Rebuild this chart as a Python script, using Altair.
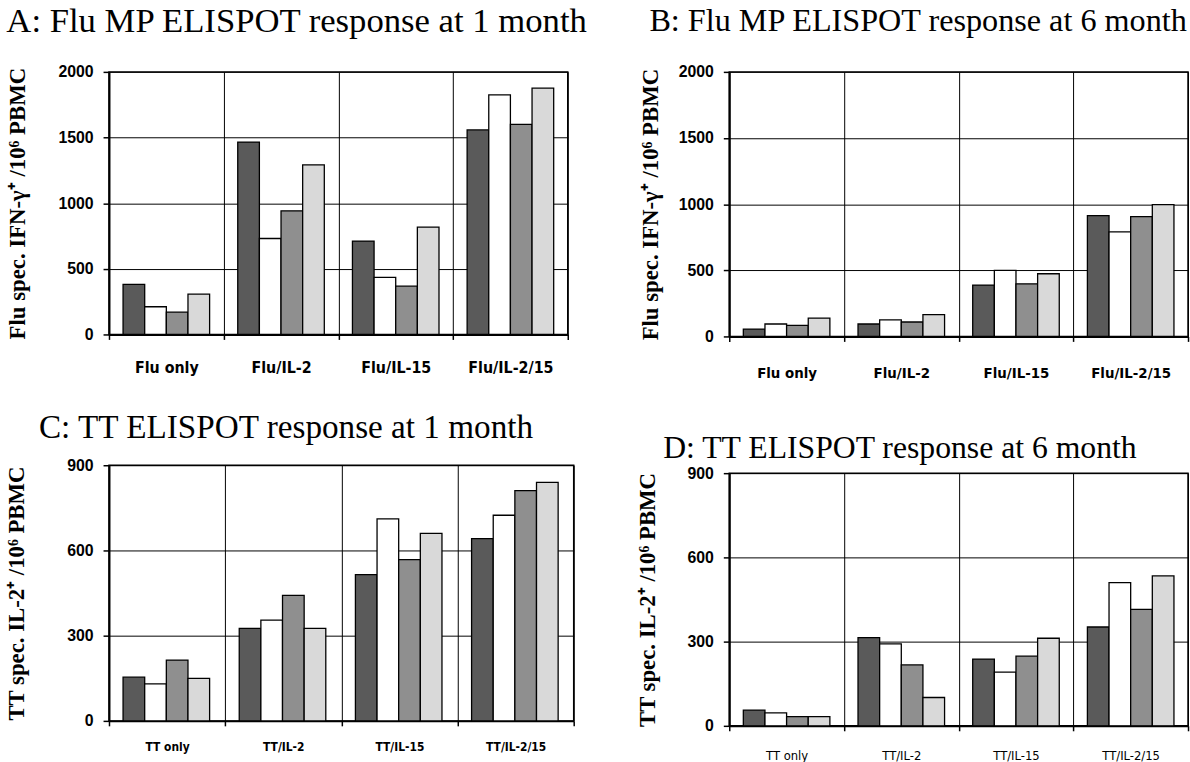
import altair as alt
import pandas as pd

# ---- data ----
series = ["Bar 1", "Bar 2", "Bar 3", "Bar 4"]
bar_colors = ["#5a5a5a", "#ffffff", "#8f8f8f", "#d9d9d9"]

flu_groups = ["Flu only", "Flu/IL-2", "Flu/IL-15", "Flu/IL-2/15"]
tt_groups = ["TT only", "TT/IL-2", "TT/IL-15", "TT/IL-2/15"]

# Panel A: Flu MP ELISPOT, 1 month
a_flu_only = [381, 211, 170, 307]
a_flu_il2 = [1465, 731, 942, 1292]
a_flu_il15 = [711, 434, 368, 818]
a_flu_il215 = [1558, 1825, 1600, 1876]

# Panel B: Flu MP ELISPOT, 6 month
b_flu_only = [56, 94, 84, 139]
b_flu_il2 = [94, 125, 109, 165]
b_flu_il15 = [388, 499, 398, 474]
b_flu_il215 = [913, 791, 905, 996]

# Panel C: TT ELISPOT, 1 month
c_tt_only = [154, 130, 214, 150]
c_tt_il2 = [326, 355, 442, 326]
c_tt_il15 = [515, 711, 568, 660]
c_tt_il215 = [642, 724, 811, 840]

# Panel D: TT ELISPOT, 6 month
d_tt_only = [56, 46, 33, 33]
d_tt_il2 = [314, 292, 217, 101]
d_tt_il15 = [238, 191, 248, 312]
d_tt_il215 = [352, 510, 415, 534]

flu_ticks = [0, 500, 1000, 1500, 2000]
tt_ticks = [0, 300, 600, 900]

SERIF = "'Liberation Serif', 'Times New Roman', serif"
NARROW = "'Liberation Sans Narrow', 'Arial Narrow', 'DejaVu Sans Condensed', 'Liberation Sans', sans-serif"
SANS = "'Liberation Sans', Arial, sans-serif"


def panel(groups, rows, title, ytitle, ticks, w, h, title_dx, title_offset,
          title_size, ytitle_pad, xlabel_size, xlabel_weight, xlabel_pad):
    recs = []
    for g, vals in zip(groups, rows):
        for s, v in zip(series, vals):
            recs.append({"group": g, "series": s, "value": v})
    df = pd.DataFrame(recs)
    return alt.Chart(df).mark_bar(stroke="black", strokeWidth=1.3).encode(
        x=alt.X("group:N", sort=groups, title=None,
                scale=alt.Scale(paddingInner=0, paddingOuter=0),
                axis=alt.Axis(tickBand="extent", grid=True, gridColor="black",
                              gridWidth=1, gridOpacity=1, domainColor="black",
                              domainWidth=2, tickColor="black", tickSize=5,
                              tickWidth=1.5, labelAngle=0, labelFont=NARROW,
                              labelFontSize=xlabel_size, labelFontWeight=xlabel_weight,
                              labelColor="black", labelPadding=xlabel_pad)),
        xOffset=alt.XOffset("series:N", sort=series,
                            scale=alt.Scale(paddingOuter=0.65, paddingInner=0)),
        y=alt.Y("value:Q", scale=alt.Scale(domain=[ticks[0], ticks[-1]], nice=False),
                axis=alt.Axis(values=ticks, format="d", title=ytitle, titleFont=SERIF,
                              titleFontSize=23, titleFontWeight="bold",
                              titleColor="black", titlePadding=ytitle_pad,
                              grid=True, gridColor="black", gridWidth=1,
                              gridOpacity=1, domainColor="black", domainWidth=2,
                              tickColor="black", tickSize=6, tickWidth=1.5,
                              labelFont=SANS, labelFontSize=16,
                              labelFontWeight="bold", labelColor="black",
                              labelPadding=10)),
        color=alt.Color("series:N", scale=alt.Scale(domain=series, range=bar_colors),
                        legend=None),
    ).properties(
        width=w, height=h,
        title=alt.TitleParams(title, anchor="start", frame="bounds", dx=title_dx,
                              offset=title_offset, font=SERIF, fontSize=title_size,
                              fontWeight="normal", color="black"),
    )


A = panel(flu_groups, [a_flu_only, a_flu_il2, a_flu_il15, a_flu_il215],
          "A: Flu MP ELISPOT response at 1 month", "Flu spec. IFN-\u03b3\u207a /10\u2076 PBMC",
          flu_ticks, 463, 265, 0, 25, 35, 29, 16, "bold", 20)
B = panel(flu_groups, [b_flu_only, b_flu_il2, b_flu_il15, b_flu_il215],
          "B: Flu MP ELISPOT response at 6 month", "Flu spec. IFN-\u03b3\u207a /10\u2076 PBMC",
          flu_ticks, 463, 267, 10, 27, 32.5, 16, 15, "bold", 24)
C = panel(tt_groups, [c_tt_only, c_tt_il2, c_tt_il15, c_tt_il215],
          "C: TT ELISPOT response at 1 month", "TT spec. IL-2\u207a /10\u2076 PBMC",
          tt_ticks, 469, 258, 34, 12, 33.5, 39, 12, "bold", 16)
D = panel(tt_groups, [d_tt_only, d_tt_il2, d_tt_il15, d_tt_il215],
          "D: TT ELISPOT response at 6 month", "TT spec. IL-2\u207a /10\u2076 PBMC",
          tt_ticks, 463, 255, 27, 0, 32, 28, 13, "normal", 19)

left = alt.ConcatChart(concat=[A, C], columns=1, spacing=34, align="none")
right = alt.ConcatChart(concat=[B, D], columns=1, spacing=51, align="none")

chart = alt.ConcatChart(concat=[left, right], columns=2, spacing=45, align="none").properties(
    padding={"left": 4, "top": 0, "right": 0, "bottom": 0},
    background="white",
).configure_view(stroke="black", strokeWidth=1.5)

chart.save("out.html", embed_options={"renderer": "svg", "actions": False})
